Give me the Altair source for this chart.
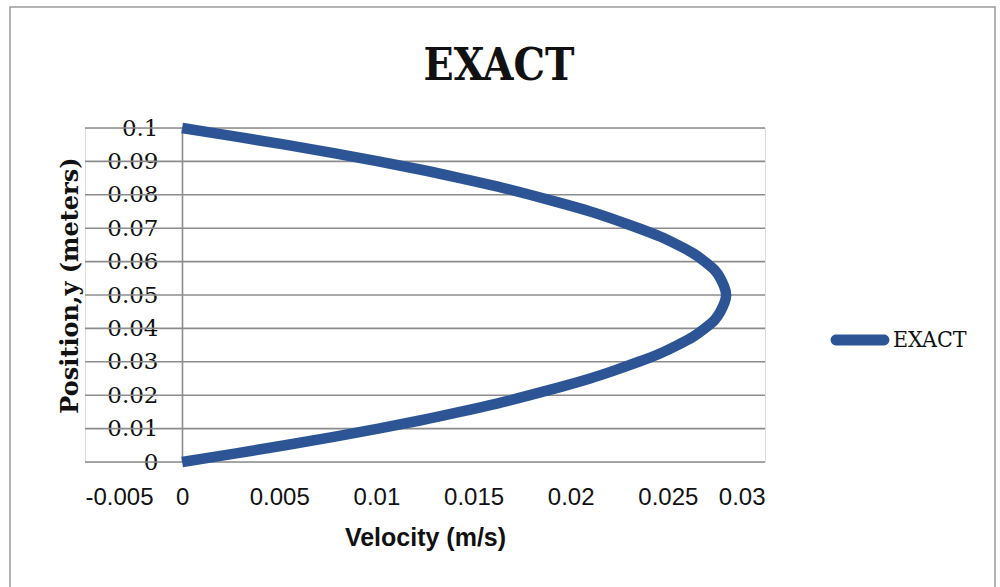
import altair as alt
import pandas as pd

# Position y (m) and velocity (m/s)
position = [0.0, 0.0025, 0.005, 0.0075, 0.01, 0.0125, 0.015, 0.0175, 0.02, 0.0225,
            0.025, 0.0275, 0.03, 0.0325, 0.035, 0.0375, 0.04, 0.0425, 0.045, 0.0475,
            0.05, 0.0525, 0.055, 0.0575, 0.06, 0.0625, 0.065, 0.0675, 0.07, 0.0725,
            0.075, 0.0775, 0.08, 0.0825, 0.085, 0.0875, 0.09, 0.0925, 0.095, 0.0975, 0.1]
velocity = [0.0, 0.0027, 0.0053, 0.0078, 0.0101, 0.0123, 0.0143, 0.0162, 0.0179, 0.0195,
            0.0210, 0.0223, 0.0235, 0.0246, 0.0255, 0.0263, 0.0269, 0.0274, 0.0277, 0.0279,
            0.0280, 0.0279, 0.0277, 0.0274, 0.0269, 0.0263, 0.0255, 0.0246, 0.0235, 0.0223,
            0.0210, 0.0195, 0.0179, 0.0162, 0.0143, 0.0123, 0.0101, 0.0078, 0.0053, 0.0027, 0.0]
series_name = "EXACT"
chart_title = "EXACT"

y_ticks = [0, 0.01, 0.02, 0.03, 0.04, 0.05, 0.06, 0.07, 0.08, 0.09, 0.1]
x_ticks = [-0.005, 0, 0.005, 0.01, 0.015, 0.02, 0.025, 0.03]

BLUE = "#2D5596"
GRID = "#8C8C8C"
TXT = "#111111"
SERIF = "DejaVu Serif"
SERIF_C = "DejaVu Serif Condensed, DejaVu Serif"
SANS = "Liberation Sans"

df = pd.DataFrame({"velocity": velocity, "position": position, "series": [series_name] * len(position)})
grid_df = pd.DataFrame({"position": y_ticks})

x_scale = alt.Scale(domain=[-0.005, 0.03], nice=False, zero=False)
y_scale = alt.Scale(domain=[0, 0.1], nice=False, zero=False)

y_axis = alt.Axis(
    values=y_ticks,
    labelExpr="'' + datum.value",
    grid=False,
    domain=True,
    domainColor=GRID,
    domainWidth=1.6,
    ticks=False,
    offset=-97,
    labelPadding=24,
    labelFont=SERIF,
    labelFontSize=23,
    labelColor=TXT,
    titleFont=SERIF,
    titleFontSize=24,
    titleFontWeight="bold",
    titleColor=TXT,
    titlePadding=24,
    titleY=157,
)
x_axis = alt.Axis(
    values=x_ticks,
    labelExpr="'' + datum.value",
    grid=False,
    domain=False,
    ticks=False,
    labelPadding=23,
    labelFont=SANS,
    labelFontSize=24,
    labelColor=TXT,
    titleFont=SANS,
    titleFontSize=25,
    titleFontWeight="bold",
    titleColor=TXT,
    titlePadding=16,
)

frame = alt.Chart(pd.DataFrame({"a": [0]})).mark_rect(
    fill=None, stroke="#9A9A9A", strokeWidth=1.5
).encode(
    x=alt.value(-75), x2=alt.value(910), y=alt.value(-121), y2=alt.value(480)
)

title = alt.Chart(pd.DataFrame({"t": [chart_title]})).mark_text(
    font=SERIF_C, fontSize=44, fontWeight="bold", color=TXT,
    align="center", baseline="alphabetic",
).encode(text="t:N", x=alt.value(414), y=alt.value(-48))

grid = alt.Chart(grid_df).mark_rule(color=GRID, strokeWidth=1.6).encode(
    y=alt.Y("position:Q", scale=y_scale, title="Position,y (meters)", axis=y_axis),
    x=alt.datum(-0.005, scale=x_scale, title="Velocity (m/s)", axis=x_axis),
    x2=alt.datum(0.03),
)

line = alt.Chart(df).mark_line(strokeWidth=10.5, strokeCap="butt", strokeJoin="round",
                               interpolate="natural").encode(
    x=alt.X("velocity:Q", scale=x_scale, title="Velocity (m/s)", axis=x_axis),
    y=alt.Y("position:Q", scale=y_scale, title="Position,y (meters)", axis=y_axis),
    order=alt.Order("position:Q"),
    color=alt.Color(
        "series:N",
        scale=alt.Scale(domain=[series_name], range=[BLUE]),
        legend=alt.Legend(
            title=None,
            orient="none",
            legendX=745,
            legendY=182,
            padding=0,
            symbolType="M-0.97,-0.18 H0.8 A0.18,0.18 0 0 1 0.8,0.18 H-0.8 A0.18,0.18 0 0 1 -0.8,-0.18 Z",
            symbolSize=3600,
            symbolFillColor=BLUE,
            symbolStrokeColor=BLUE,
            symbolStrokeWidth=0,
            labelFont=SERIF_C,
            labelFontSize=23,
            labelColor=TXT,
            labelOffset=3,
        ),
    ),
)

chart = alt.layer(frame, title, grid, line).properties(
    width=680,
    height=334,
    padding={"left": 85, "top": 128, "right": 235, "bottom": 125},
    autosize="none",
).configure_view(stroke=None).configure(background="white")

chart.save("out.html", embed_options={"renderer": "svg", "actions": False})
